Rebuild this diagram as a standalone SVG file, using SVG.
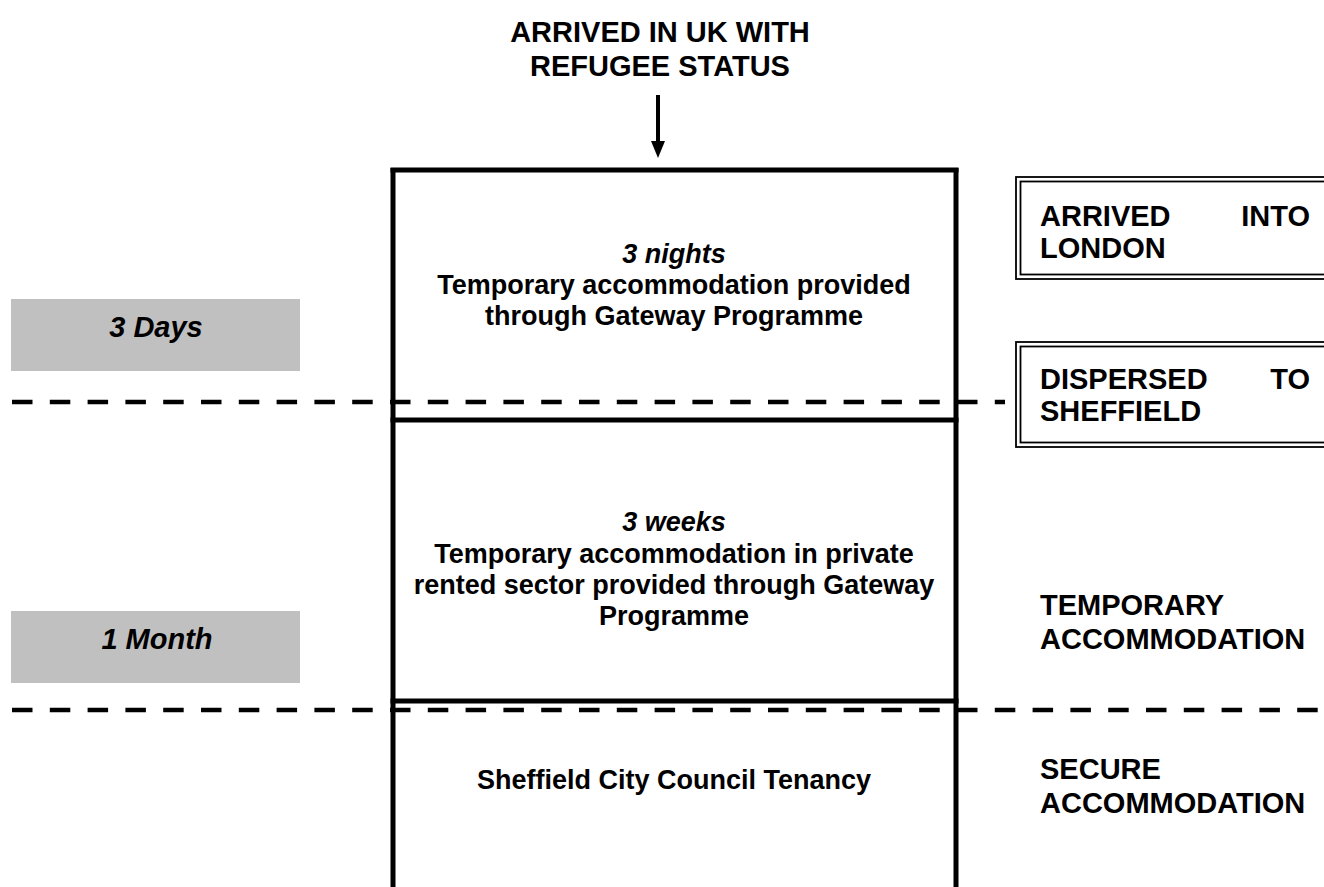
<svg xmlns="http://www.w3.org/2000/svg" width="1324" height="887" viewBox="0 0 1324 887">
<style>
text{font-family:"Liberation Sans",Arial,sans-serif;font-weight:bold;fill:#000}
.t{font-size:29px}
.b{font-size:27px}
.i{font-style:italic}
.mid{text-anchor:middle}
.end{text-anchor:end}
.frame{fill:none;stroke:#000;stroke-width:5}
.dash{stroke:#000;stroke-width:4.5;stroke-dasharray:20.5 17.3;fill:none}
.dbl{fill:#fff;stroke:#000;stroke-width:1.8}
.gray{fill:#c0c0c0}
</style>
<rect width="1324" height="887" fill="#fff"/>

<g id="title">
<text class="t mid" x="660" y="42">ARRIVED IN UK WITH</text>
<text class="t mid" x="660" y="76">REFUGEE STATUS</text>
</g>

<g id="connectors">
<line x1="658" y1="95" x2="658" y2="142" stroke="#000" stroke-width="4"/>
<path d="M651,141 L665,141 L658,158 Z" fill="#000"/>
<line class="dash" x1="12" y1="402" x2="1005" y2="402"/>
<line class="dash" x1="12" y1="710" x2="1324" y2="710"/>
</g>

<g id="box-nights">
<line class="frame" x1="393" y1="168" x2="393" y2="420"/>
<line class="frame" x1="956" y1="168" x2="956" y2="420"/>
<line class="frame" x1="390.5" y1="170" x2="958.5" y2="170"/>
<line class="frame" x1="390.5" y1="420" x2="958.5" y2="420"/>
<text class="b mid i" x="674" y="263">3 nights</text>
<text class="b mid" x="674" y="294">Temporary accommodation provided</text>
<text class="b mid" x="674" y="325">through Gateway Programme</text>
</g>

<g id="box-weeks">
<line class="frame" x1="393" y1="420" x2="393" y2="701"/>
<line class="frame" x1="956" y1="420" x2="956" y2="701"/>
<line class="frame" x1="390.5" y1="701" x2="958.5" y2="701"/>
<text class="b mid i" x="674" y="531">3 weeks</text>
<text class="b mid" x="674" y="563">Temporary accommodation in private</text>
<text class="b mid" x="674" y="594">rented sector provided through Gateway</text>
<text class="b mid" x="674" y="625">Programme</text>
</g>

<g id="box-tenancy">
<line class="frame" x1="393" y1="701" x2="393" y2="887"/>
<line class="frame" x1="956" y1="701" x2="956" y2="887"/>
<text class="b mid" x="674" y="789">Sheffield City Council Tenancy</text>
</g>

<g id="days">
<rect class="gray" x="11" y="299" width="289" height="72"/>
<text class="t i mid" x="156" y="337">3 Days</text>
</g>

<g id="month">
<rect class="gray" x="11" y="611" width="289" height="72"/>
<text class="t i mid" x="157" y="649">1 Month</text>
</g>

<g id="london">
<rect class="dbl" x="1016" y="177" width="330" height="102"/>
<rect class="dbl" x="1020.5" y="181.5" width="330" height="93"/>
<text class="t" x="1040" y="226">ARRIVED</text>
<text class="t end" x="1310" y="226">INTO</text>
<text class="t" x="1040" y="258">LONDON</text>
</g>

<g id="sheffield">
<rect class="dbl" x="1016" y="342" width="330" height="105"/>
<rect class="dbl" x="1020.5" y="346.5" width="330" height="96"/>
<text class="t" x="1040" y="389">DISPERSED</text>
<text class="t end" x="1310" y="389">TO</text>
<text class="t" x="1040" y="421">SHEFFIELD</text>
</g>

<g id="temporary">
<text class="t" x="1040" y="615">TEMPORARY</text>
<text class="t" x="1040" y="649">ACCOMMODATION</text>
</g>

<g id="secure">
<text class="t" x="1040" y="779">SECURE</text>
<text class="t" x="1040" y="813">ACCOMMODATION</text>
</g>
</svg>
